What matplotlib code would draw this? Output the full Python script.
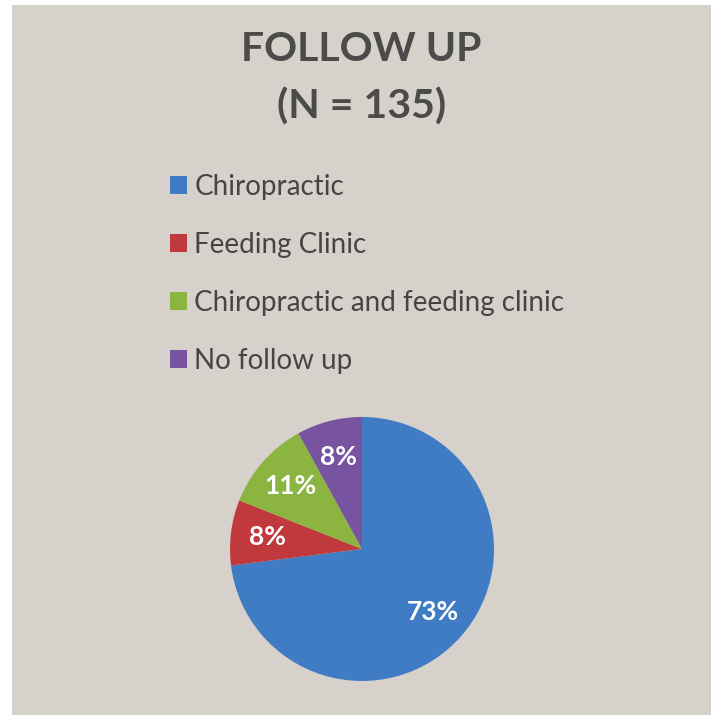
"""
plot.py — pie chart of follow-up after treatment (N = 135).
"""

import matplotlib
matplotlib.use("Agg")
import matplotlib.pyplot as plt
import matplotlib.patches as patches

# data
categories = ["Chiropractic", "Feeding Clinic",
              "Chiropractic and feeding clinic", "No follow up"]
percents = [73, 8, 11, 8]
colors = ["#3f7cc3", "#c0393c", "#8cb441", "#7853a0"]

plt.rcParams["font.family"] = ["Lato", "DejaVu Sans"]

fig = plt.figure(figsize=(7.11, 7.15), dpi=100)
fig.patch.set_facecolor("white")

# grey slide background
fig.add_artist(patches.Rectangle((12 / 711, 0), 1, 1 - 5 / 715,
                                 transform=fig.transFigure,
                                 facecolor="#d6d2cb", edgecolor="none",
                                 zorder=0))

# title (two lines, placed by baseline)
fig.text(0.508, 1 - 61 / 715, "FOLLOW UP", ha="center", va="baseline",
         fontsize=29.5, fontweight="bold", color="#4b4b4b")
fig.text(0.508, 1 - 119 / 715, "(N = 135)", ha="center", va="baseline",
         fontsize=29.5, fontweight="bold", color="#4b4b4b")

# pie
cx, cy, r = 362, 549, 132
ax = fig.add_axes([(cx - r) / 711, (715 - cy - r) / 715,
                   2 * r / 711, 2 * r / 715])
wedges, texts, autotexts = ax.pie(
    percents, colors=colors, startangle=90, counterclock=False,
    autopct=lambda p: f"{p:.0f}%", pctdistance=0.72, radius=1,
    textprops=dict(color="white", fontsize=19, fontweight="bold"),
    wedgeprops=dict(linewidth=0))
ax.set_xlim(-1, 1)
ax.set_ylim(-1, 1)
ax.set_aspect("equal")
ax.axis("off")

# legend
fig.legend(wedges, categories, loc="upper left",
           bbox_to_anchor=(159 / 711, 1 - 163 / 715),
           frameon=False, fontsize=20, labelcolor="#454545",
           handlelength=0.62, handleheight=0.62, handletextpad=0.25,
           labelspacing=1.15, borderaxespad=0)

fig.savefig("out.png", dpi=100, facecolor=fig.get_facecolor())
